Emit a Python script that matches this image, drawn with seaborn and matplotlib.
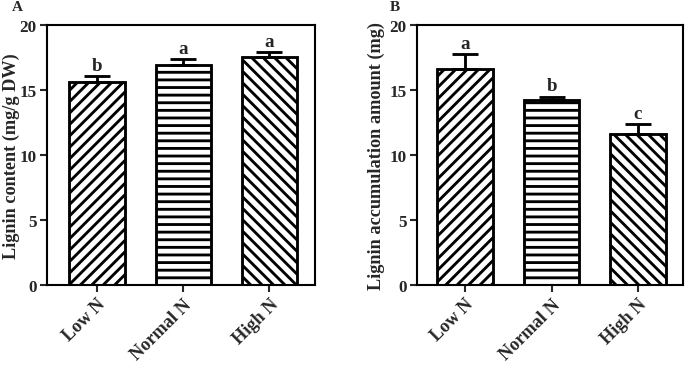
import matplotlib
matplotlib.use('Agg')
import matplotlib.pyplot as plt
import seaborn as sns

groups = ['Low N', 'Normal N', 'High N']
hatches = ['////', '---', '\\\\\\\\']

# panel A: lignin content (mg/g DW)
content_mean = [15.6, 16.9, 17.55]
content_err = [0.5, 0.45, 0.4]
content_letters = ['b', 'a', 'a']

# panel B: lignin accumulation amount (mg)
accum_mean = [16.6, 14.2, 11.6]
accum_err = [1.2, 0.3, 0.8]
accum_letters = ['a', 'b', 'c']

sns.set_style('ticks')
plt.rcParams['font.family'] = ['Liberation Serif', 'DejaVu Serif']
plt.rcParams['font.weight'] = 'bold'
plt.rcParams['hatch.linewidth'] = 1.5

fig = plt.figure(figsize=(5.0, 2.7), dpi=137)
axA = fig.add_axes([0.0686, 0.227, 0.3914, 0.703])
axB = fig.add_axes([0.609, 0.227, 0.388, 0.703])


def draw_panel(ax, means, errs, letters, ylabel, xlim, label_x):
    sns.barplot(x=groups, y=means, ax=ax, color='white', edgecolor='black',
                linewidth=1.5, width=0.64, saturation=1)
    for bar, h in zip(ax.patches, hatches):
        bar.set_hatch(h)
        bar.set_facecolor('white')
    ax.errorbar(range(len(groups)), means, yerr=[[0] * len(errs), errs],
                fmt='none', ecolor='black', elinewidth=1.5, capsize=7,
                capthick=1.5, zorder=1)
    for i, (m, e, lab) in enumerate(zip(means, errs, letters)):
        ax.text(i, m + e + 0.15, lab, ha='center', va='bottom',
                fontsize=10, fontweight='bold')
    ax.set_ylim(0, 20)
    ax.set_yticks([0, 5, 10, 15, 20])
    ax.set_xlim(*xlim)
    ax.set_ylabel(ylabel, fontsize=9.6, fontweight='bold')
    ax.yaxis.set_label_coords(label_x, 0.5)
    ax.tick_params(axis='both', labelsize=9, width=1.1, length=3.5, pad=2)
    ax.tick_params(axis='x', labelsize=9.6)
    plt.setp(ax.get_xticklabels(), rotation=45, ha='right',
             rotation_mode='anchor', fontweight='bold')
    plt.setp(ax.get_yticklabels(), fontweight='bold')
    for s in ax.spines.values():
        s.set_visible(True)
        s.set_linewidth(1.1)
        s.set_color('black')


draw_panel(axA, content_mean, content_err, content_letters,
           'Lignin content (mg/g DW)', (-0.58, 2.53), -0.10)
draw_panel(axB, accum_mean, accum_err, accum_letters,
           'Lignin accumulation amount (mg)', (-0.555, 2.52), -0.12)

fig.text(12 / 685, 1 - 8 / 370, 'A', fontsize=8, fontweight='bold', va='center')
fig.text(390 / 685, 1 - 8 / 370, 'B', fontsize=8, fontweight='bold', va='center')

fig.savefig('out.png', dpi=137)
